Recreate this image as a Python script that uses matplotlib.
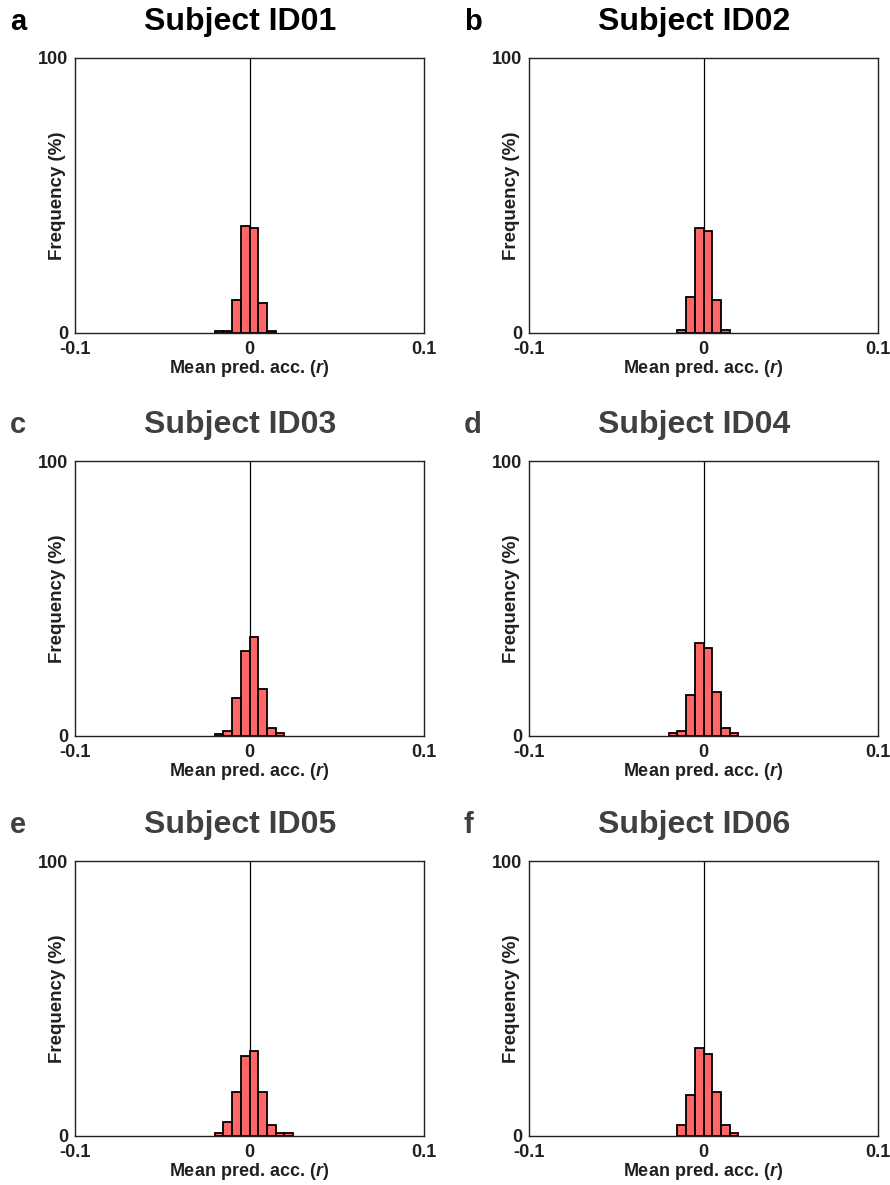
import numpy as np
import matplotlib.pyplot as plt

plt.rcParams['font.family'] = ['Liberation Sans', 'DejaVu Sans']
plt.rcParams['font.weight'] = 'bold'
plt.rcParams['mathtext.fontset'] = 'custom'
plt.rcParams['mathtext.rm'] = 'Liberation Sans:bold'
plt.rcParams['mathtext.it'] = 'Liberation Sans:italic:bold'

# left edges of histogram bins (r), bin width 0.005
bin_left = [-0.02, -0.015, -0.01, -0.005, 0.0, 0.005, 0.01, 0.015, 0.02]
bin_width = 0.005

# frequency (%) per bin for each subject
freq_id01 = [0.8, 0.8, 12, 39, 38, 11, 0.8, 0, 0]
freq_id02 = [0, 1, 13, 38, 37, 12, 1, 0, 0]
freq_id03 = [0.9, 2, 14, 31, 36, 17, 3, 1, 0]
freq_id04 = [1, 2, 15, 34, 32, 16, 3, 1, 0]
freq_id05 = [1, 5, 16, 29, 31, 16, 4, 1, 1]
freq_id06 = [0, 4, 15, 32, 30, 16, 4, 1, 0]

subjects = ['Subject ID01', 'Subject ID02', 'Subject ID03',
            'Subject ID04', 'Subject ID05', 'Subject ID06']
letters = ['a', 'b', 'c', 'd', 'e', 'f']
title_colors = ['#000000', '#000000', '#404040', '#404040', '#404040', '#404040']
freqs = [freq_id01, freq_id02, freq_id03, freq_id04, freq_id05, freq_id06]

W, H = 890, 1185
fig = plt.figure(figsize=(W / 100, H / 100), dpi=100)

col_left = [75, 529]
row_top = [58, 461, 861]
ax_w, ax_h = 349, 275
dark = '#231f20'

for i in range(6):
    r, c = divmod(i, 2)
    x0 = col_left[c]
    y0 = row_top[r]
    ax = fig.add_axes([x0 / W, 1 - (y0 + ax_h) / H, ax_w / W, ax_h / H])

    f = np.array(freqs[i], dtype=float)
    xl = np.array(bin_left)
    m = f > 0
    ax.axvline(0, color='black', lw=0.9, zorder=1)
    ax.bar(xl[m], f[m], width=bin_width, align='edge', color='#ff6666',
           edgecolor='black', linewidth=1.3, zorder=2)

    ax.set_xlim(-0.1, 0.1)
    ax.set_ylim(0, 100)
    ax.set_xticks([-0.1, 0, 0.1])
    ax.set_xticklabels(['-0.1', '0', '0.1'])
    ax.set_yticks([0, 100])
    ax.set_yticklabels(['0', '100'])
    ax.tick_params(length=0, labelsize=13, colors=dark, pad=5)
    ax.tick_params(axis='x', pad=6)
    for s in ax.spines.values():
        s.set_color(dark)
        s.set_linewidth(1.0)
    ax.set_xlabel('Mean pred. acc. ($r$)', fontsize=13, color=dark,
                  fontweight='bold')
    ax.xaxis.set_label_coords(0.5, (ax_h - (369 - 58)) / ax_h)
    ax.set_ylabel('Frequency (%)', fontsize=13.5, color=dark,
                  fontweight='bold')
    ax.yaxis.set_label_coords(-17 / ax_w, 0.5)
    ax.xaxis.label.set_va('center')
    ax.yaxis.label.set_va('center')

    ty = 1 - (y0 - 36) / H
    fig.text((x0 + ax_w / 2 - 9) / W, ty, subjects[i], ha='center', va='center',
             fontsize=23, fontweight='bold', color=title_colors[i])
    fig.text((x0 - 65) / W, ty, letters[i], ha='left', va='center',
             fontsize=21, fontweight='bold', color=title_colors[i])

fig.savefig('out.png', dpi=100)
